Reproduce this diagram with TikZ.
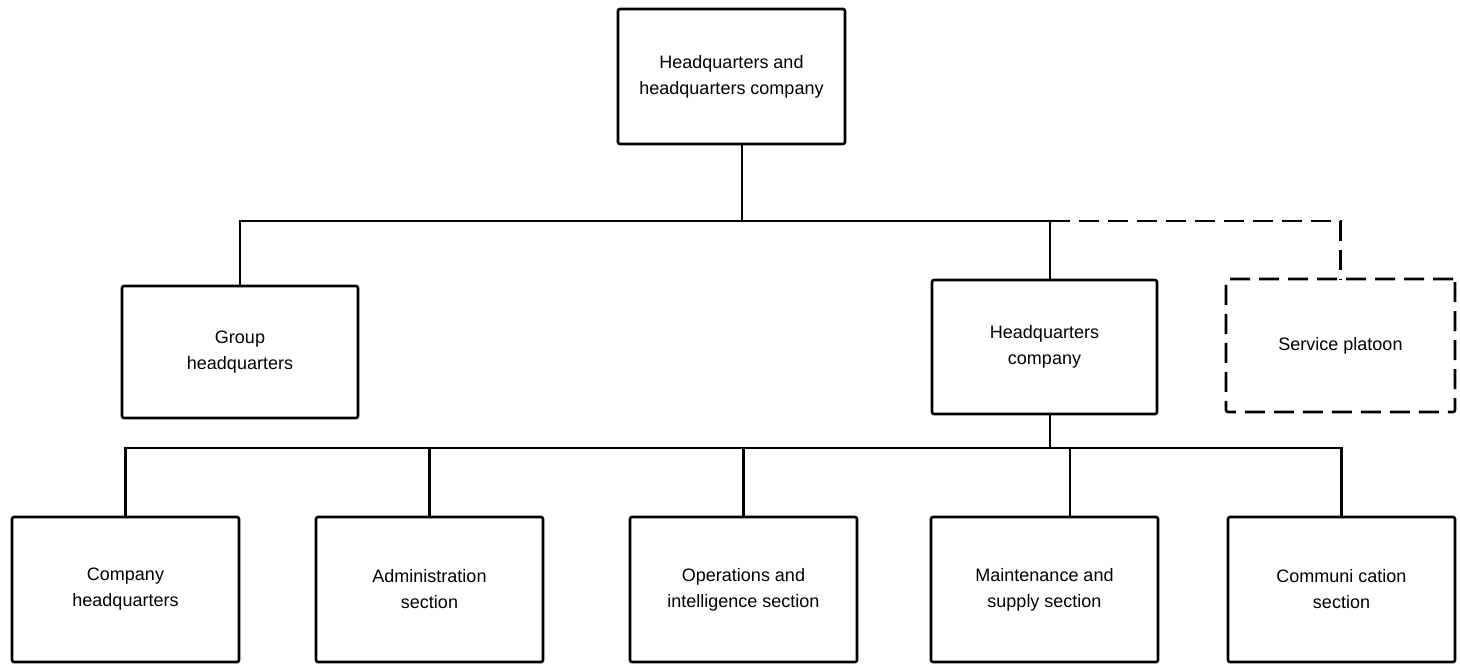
\documentclass[tikz,border=0pt]{standalone}
\usepackage{fontspec}
\setmainfont{Liberation Sans}
\usetikzlibrary{positioning}

\begin{document}
\begin{tikzpicture}[
    x=1pt, y=-1pt,
    every node/.style={
        draw=black,
        line width=2.6pt,
        outer sep=0pt,
        rounded corners=2pt,
        align=center,
        font=\fontsize{18}{26}\selectfont},
    lower/.style={minimum width=227pt, minimum height=145pt},
    link/.style={line width=2.6pt},
    dashlink/.style={line width=2.6pt, dash pattern=on 20pt off 9pt}]
    \useasboundingbox (0,0) rectangle (1460,665);
    \node[minimum width=227pt, minimum height=135pt] (hqhq) at (731.5,76.5) {Headquarters and\\headquarters company};
    \node[minimum width=236pt, minimum height=132pt] (grphq) at (240,352) {Group\\headquarters};
    \node[minimum width=225pt, minimum height=134pt] (hqco) at (1044.5,347) {Headquarters\\company};
    \node[minimum width=229pt, minimum height=133pt, dash pattern=on 20pt off 9pt] (svcplt) at (1340.5,345.5) {Service platoon};

    \node[lower] (coyhq) at (125.5,589.5) {Company\\headquarters};
    \node[lower, right=77pt of coyhq] (admin) {Administration\\section};
    \node[lower, right=87pt of admin] (opsint) {Operations and\\intelligence section};
    \node[lower, right=74pt of opsint] (maint) {Maintenance and\\supply section};
    \node[lower, right=70pt of maint] (comm) {Communi cation\\section};

    \coordinate (topbus) at (742,221);
    \coordinate (lowbus) at (1050,448);
    \draw[link] ([xshift=10.5pt]hqhq.south) -- (topbus);
    \draw[link] (grphq.north) |- (topbus -| lowbus) -- (hqco.north -| lowbus);
    \draw[dashlink] (topbus -| lowbus) -| (svcplt.north);
    \draw[link] (hqco.south -| lowbus) -- (lowbus);
    \draw[link] (coyhq.north) |- (lowbus) -| (comm.north);
    \foreach \sec in {admin, opsint}
        \draw[link] (\sec.north) -- (\sec.north |- lowbus);
    \draw[link] ([xshift=25.5pt]maint.north) -- ([xshift=25.5pt]maint.north |- lowbus);
\end{tikzpicture}
\end{document}
